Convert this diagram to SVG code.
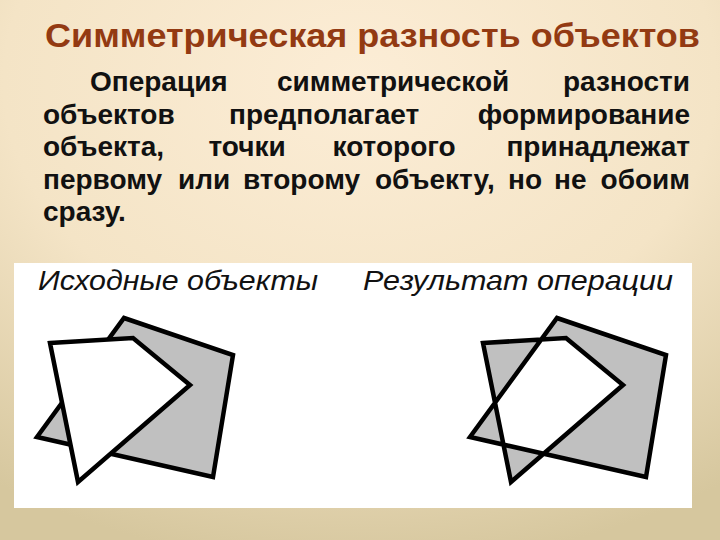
<svg xmlns="http://www.w3.org/2000/svg" width="720" height="540" viewBox="0 0 720 540">
  <defs>
    <radialGradient id="bg" cx="50%" cy="15%" r="90%" fx="50%" fy="15%">
      <stop offset="0" stop-color="#FCEDD6"/>
      <stop offset="0.55" stop-color="#F4E4C6"/>
      <stop offset="1" stop-color="#D6C79E"/>
    </radialGradient>
    <style>
      .title { font-family: "Liberation Sans", Arial, sans-serif; font-weight: bold; font-size: 34px; fill: #933A12; }
      .body { font-family: "Liberation Sans", Arial, sans-serif; font-weight: bold; font-size: 28px; fill: #111111; }
      .label { font-family: "Liberation Sans", Arial, sans-serif; font-style: italic; font-size: 28px; fill: #111111; }
      .shape { stroke: #000000; stroke-width: 4.5; stroke-linejoin: miter; }
      .gray { fill: #C0C0C0; }
      .white { fill: #FFFFFF; }
    </style>
  </defs>

  <rect x="0" y="0" width="720" height="540" fill="url(#bg)"/>

  <text class="title" x="45" y="47" textLength="655" lengthAdjust="spacingAndGlyphs">Симметрическая разность объектов</text>

  <g id="paragraph">
    <text class="body" y="91">
      <tspan x="90">Операция</tspan>
      <tspan x="397" text-anchor="middle">симметрической</tspan>
      <tspan x="690" text-anchor="end">разности</tspan>
    </text>
    <text class="body" y="123.5">
      <tspan x="43">объектов</tspan>
      <tspan x="328" text-anchor="middle">предполагает</tspan>
      <tspan x="690" text-anchor="end">формирование</tspan>
    </text>
    <text class="body" y="156">
      <tspan x="43">объекта,</tspan>
      <tspan x="251" text-anchor="middle">точки</tspan>
      <tspan x="398" text-anchor="middle">которого</tspan>
      <tspan x="690" text-anchor="end">принадлежат</tspan>
    </text>
    <text class="body" y="188.5">
      <tspan x="43">первому</tspan>
      <tspan x="178">или</tspan>
      <tspan x="243">второму</tspan>
      <tspan x="375">объекту,</tspan>
      <tspan x="508">но</tspan>
      <tspan x="554">не</tspan>
      <tspan x="690" text-anchor="end">обоим</tspan>
    </text>
    <text class="body" y="221">
      <tspan x="43">сразу.</tspan>
    </text>
  </g>

  <rect id="panel" x="14" y="263" width="678" height="245" fill="#FFFFFF"/>

  <g id="source-objects">
    <text class="label" x="38" y="290" textLength="280" lengthAdjust="spacingAndGlyphs">Исходные объекты</text>
    <polygon id="source-gray" class="shape gray" points="124,318 233,355 213,477 37,437"/>
    <polygon id="source-white" class="shape white" points="50,343 133,338 190,385 78,482"/>
  </g>

  <g id="result">
    <text class="label" x="363" y="290" textLength="310" lengthAdjust="spacingAndGlyphs">Результат операции</text>
    <path id="result-shape" class="shape gray" fill-rule="evenodd" d="M557,318 L666,355 L646,477 L470,437 Z M483,343 L566,338 L623,385 L511,482 Z"/>
  </g>
</svg>
